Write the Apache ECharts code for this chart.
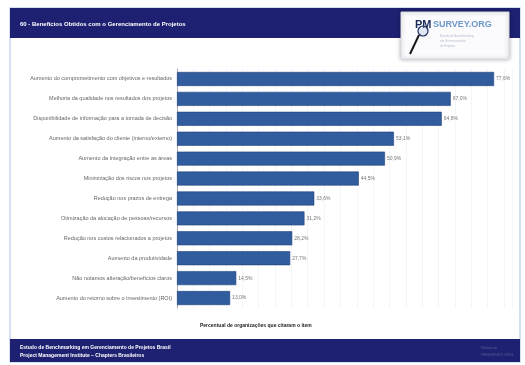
<!DOCTYPE html>
<html lang="pt">
<head>
    <meta charset="UTF-8">
    <title>Benefícios Obtidos</title>
    <style>
        body {
            margin: 0;
            padding: 0;
            background: #fff;
        }
        #chart {
            width: 525px;
            height: 365px;
        }
    </style>
</head>
<body>
<div id="chart"></div>
<script src="https://cdn.jsdelivr.net/npm/echarts@6/dist/echarts.min.js"></script>
<script>
    const categories = [
        "Aumento do comprometimento com objetivos e resultados",
        "Melhoria da qualidade nos resultados dos projetos",
        "Disponibilidade de informação para a tomada de decisão",
        "Aumento da satisfação do cliente (interno/externo)",
        "Aumento da integração entre as áreas",
        "Minimização dos riscos nos projetos",
        "Redução nos prazos de entrega",
        "Otimização da alocação de pessoas/recursos",
        "Redução nos custos relacionados a projetos",
        "Aumento da produtividade",
        "Não notamos alteração/benefícios claros",
        "Aumento do retorno sobre o investimento (ROI)"
    ];
    const values = [77.6, 67.0, 64.8, 53.1, 50.9, 44.5, 33.6, 31.2, 28.2, 27.7, 14.5, 13.0];

    const title = "60 - Benefícios Obtidos com o Gerenciamento de Projetos";
    const axisName = "Percentual de organizações que citaram o item";
    const footer1 = "Estudo de Benchmarking em Gerenciamento de Projetos Brasil";
    const footer2 = "Project Management Institute – Chapters Brasileiros";

    const chart = echarts.init(document.getElementById("chart"));

    const navy = "#1e2172";

    const option = {
        backgroundColor: "#fff",
        animation: false,
        grid: {
            left: 177,
            right: 13,
            top: 69,
            bottom: 57
        },
        xAxis: {
            type: "value",
            min: 0,
            max: 82,
            interval: 4,
            axisLabel: {show: false},
            axisTick: {show: false},
            axisLine: {show: false},
            splitLine: {
                lineStyle: {color: "#f3f5f9", width: 1}
            }
        },
        yAxis: {
            type: "category",
            inverse: true,
            data: categories,
            axisTick: {show: false},
            axisLine: {
                lineStyle: {color: "#a4a9b2", width: 1}
            },
            axisLabel: {
                fontSize: 5.5,
                color: "#666",
                margin: 5,
                fontFamily: "Arial, Liberation Sans, sans-serif"
            }
        },
        series: [{
            type: "bar",
            data: values,
            barWidth: 14,
            itemStyle: {
                color: "#315c9d",
                borderColor: "#1f417c",
                borderWidth: 0.6
            },
            label: {
                show: true,
                position: "right",
                distance: 2,
                fontSize: 5,
                color: "#777",
                formatter: p => p.value.toFixed(1).replace(".", ",") + "%"
            }
        }],
        graphic: [
            // moldura da página
            {
                type: "rect",
                shape: {x: 10, y: 8, width: 510, height: 354},
                style: {fill: "none", stroke: "#c9d5ea", lineWidth: 1.5},
                z: 1
            },
            // cabeçalho
            {
                type: "rect",
                shape: {x: 10, y: 8, width: 510, height: 30},
                style: {fill: navy},
                z: 2
            },
            {
                type: "text",
                left: 20,
                top: 21,
                style: {
                    text: title,
                    fill: "#fff",
                    font: "bold 6px Arial, Liberation Sans, sans-serif"
                },
                z: 3
            },
            // logo
            {
                type: "rect",
                shape: {x: 401, y: 12, width: 108, height: 47},
                style: {fill: "#fbfbfd", stroke: "#d8dbe2", lineWidth: 1, shadowBlur: 4, shadowColor: "rgba(0,0,0,0.3)"},
                z: 4
            },
            {
                type: "text",
                left: 415,
                top: 19,
                style: {
                    text: "PM",
                    fill: "#1a2a5c",
                    font: "bold 11px Arial, Liberation Sans, sans-serif"
                },
                z: 5
            },
            {
                type: "text",
                left: 433,
                top: 20,
                style: {
                    text: "SURVEY.ORG",
                    fill: "#6d97c8",
                    font: "bold 9px Arial, Liberation Sans, sans-serif"
                },
                z: 5
            },
            {
                type: "text",
                left: 440,
                top: 34,
                style: {
                    text: "Estudo de Benchmarking\nem Gerenciamento\nde Projetos",
                    fill: "#b5bccb",
                    font: "3px Arial, sans-serif",
                    lineHeight: 5
                },
                z: 5
            },
            {
                type: "circle",
                shape: {cx: 423, cy: 31, r: 5},
                style: {fill: "rgba(160,190,220,0.3)", stroke: "#1a2a5c", lineWidth: 1.2},
                z: 5
            },
            {
                type: "line",
                shape: {x1: 419, y1: 35, x2: 410, y2: 54},
                style: {stroke: "#1a1a1a", lineWidth: 2},
                z: 5
            },
            // nome do eixo
            {
                type: "text",
                left: 200,
                top: 323,
                style: {
                    text: axisName,
                    fill: "#222",
                    font: "bold 5px Arial, Liberation Sans, sans-serif"
                },
                z: 3
            },
            // rodapé
            {
                type: "rect",
                shape: {x: 10, y: 339, width: 510, height: 23},
                style: {fill: navy},
                z: 2
            },
            {
                type: "text",
                left: 20,
                top: 344,
                style: {
                    text: footer1 + "\n" + footer2,
                    fill: "#fff",
                    font: "bold 5px Arial, Liberation Sans, sans-serif",
                    lineHeight: 8
                },
                z: 3
            },
            {
                type: "text",
                right: 12,
                top: 344,
                style: {
                    text: "Relatório\nPMSURVEY.ORG",
                    fill: "#5b5e96",
                    font: "4px Arial, sans-serif",
                    align: "right",
                    lineHeight: 7
                },
                z: 3
            }
        ]
    };

    chart.setOption(option);
</script>
</body>
</html>
